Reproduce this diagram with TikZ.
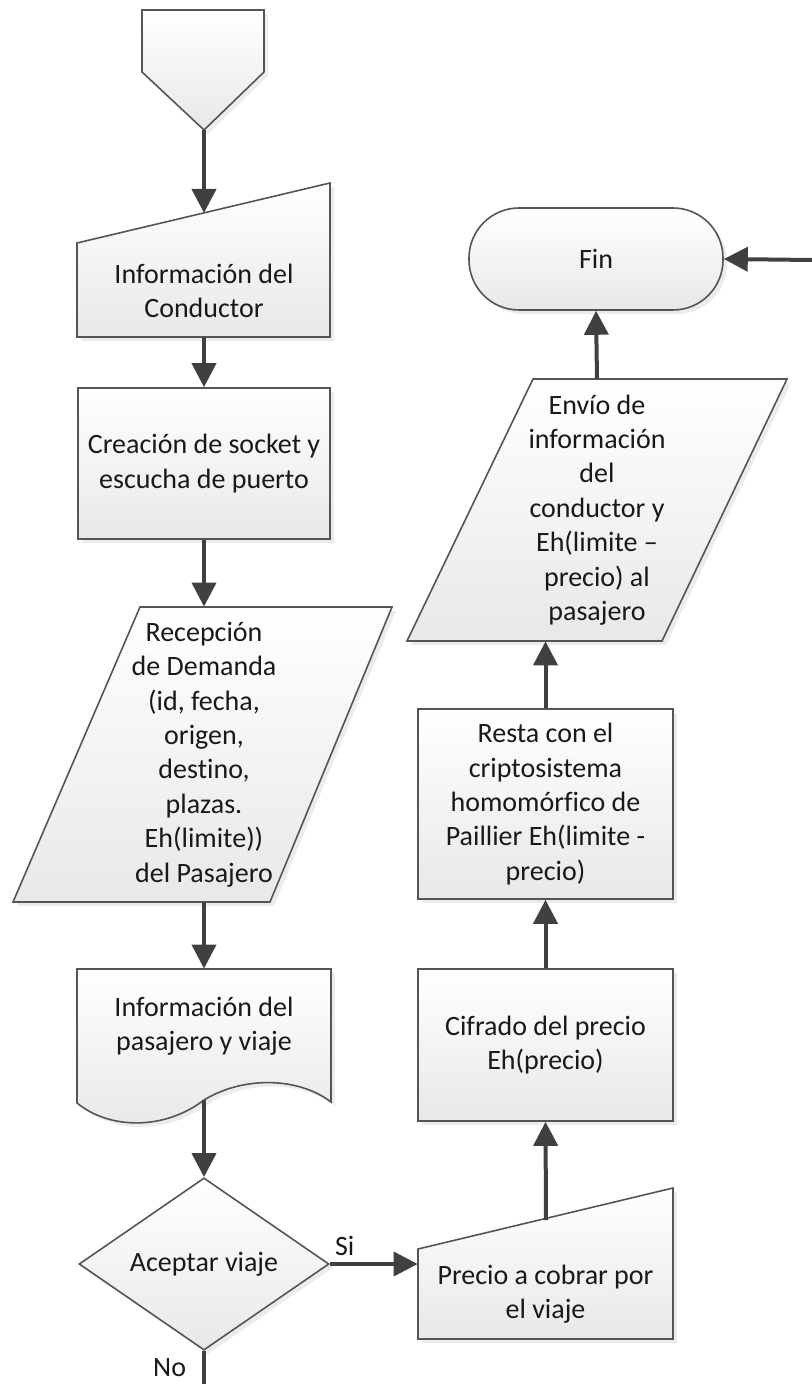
\documentclass[tikz,border=0pt]{standalone}
\usepackage{fontspec}
\setmainfont[Ligatures=NoCommon]{Carlito}
\usetikzlibrary{shapes.geometric,arrows.meta,shadows}
\definecolor{BordeGris}{HTML}{555555}
\definecolor{FlechaGris}{HTML}{404040}

\begin{document}
\begin{tikzpicture}[x=0.5pt, y=-0.5pt,
    forma/.style={draw=BordeGris, line width=0.8pt, top color=white, bottom color=black!9,
      drop shadow={opacity=0.15, shadow xshift=2pt, shadow yshift=-2pt}},
    texto/.style={align=center, text=black!90, inner sep=0pt,
      font=\fontsize{14pt}{17.2pt}\selectfont},
    caja/.style={texto, forma, rectangle, minimum width=127.5pt},
    hueco/.style={texto, minimum width=126pt},
    flecha/.style={-{Triangle[length=12pt,width=12pt]}, line width=2pt, FlechaGris},
    linea/.style={line width=2pt, FlechaGris}]
    \useasboundingbox (0,0) rectangle (812,1384);

    \filldraw[forma] (142,10) -- (264,10) -- (264,72) -- (204,130) -- (142,72) -- cycle;
    \filldraw[forma] (77,243) -- (330,183) -- (330,337) -- (77,337) -- cycle;
    \filldraw[forma] (140,607) -- (392,607) -- (270,902) -- (13,902) -- cycle;
    \filldraw[forma] (77,969) -- (331,969) -- (331,1102)
      .. controls (300,1078) and (245,1075) .. (204,1100)
      .. controls (165,1130) and (110,1130) .. (77,1103) -- cycle;
    \filldraw[forma] (418,1249) -- (673,1188) -- (673,1339) -- (418,1339) -- cycle;
    \filldraw[forma] (533,379) -- (787,379) -- (662,641) -- (407,641) -- cycle;

    \coordinate (inicio) at (204,130);
    \coordinate (condarriba) at (204,213);
    \coordinate (docabajo) at (204,1100);
    \coordinate (noabajo) at (204,1384);
    \coordinate (precioarriba) at (546,1220);
    \coordinate (finderecha) at (812,260);

    \node[hueco, minimum height=46pt] (cond) at (204,291) {Información del\\Conductor};
    \node[caja, minimum width=126pt, minimum height=75.5pt] (socket) at (204,463.5)
      {Creación de socket y\\escucha de puerto};
    \node[hueco, minimum height=147.5pt] (recep) at (204,754.5)
      {Recepción\\de Demanda\\(id, fecha,\\origen,\\destino,\\plazas.\\Eh(limite))\\del Pasajero};
    \node[hueco, minimum height=57pt] (doc) at (204,1026) {Información del\\pasajero y viaje};
    \node[texto, forma, diamond, minimum width=125pt, minimum height=74pt] (decision)
      at (204,1264) {Aceptar viaje};
    \node[hueco, minimum width=127.5pt, minimum height=45pt] (precio) at (545.5,1294)
      {Precio a cobrar por\\el viaje};
    \node[caja, minimum height=76pt] (cifrado) at (545.5,1045) {Cifrado del precio\\Eh(precio)};
    \node[caja, minimum height=95pt] (resta) at (545.5,804)
      {Resta con el\\criptosistema\\homomórfico de\\Paillier Eh(limite -\\precio)};
    \node[hueco, minimum height=131pt] (envio) at (597,510)
      {Envío de\\información\\del\\conductor y\\Eh(limite –\\precio) al\\pasajero};
    \node[texto, forma, rectangle, rounded corners=25pt, minimum width=127pt,
      minimum height=51pt] (fin) at (596,259) {Fin};

    \draw[flecha] (inicio) -- (condarriba);
    \draw[flecha] (cond.south) -- (socket.north);
    \draw[flecha] (socket.south) -- (socket.south |- recep.north);
    \draw[flecha] (recep.south) -- (doc.north);
    \draw[flecha] (docabajo) -- (decision.north);
    \draw[flecha] (decision.east) -- (decision.east -| precio.west)
      node[texto, pos=0.17, above, inner sep=3pt] {Si};
    \draw[linea] (decision.south) -- (noabajo)
      node[texto, pos=0.5, left, inner sep=8pt] {No};
    \draw[flecha] (precioarriba) -- (cifrado.south);
    \draw[flecha] (cifrado.north) -- (resta.south);
    \draw[flecha] (resta.north) -- (resta.north |- envio.south);
    \draw[flecha] (envio.north) -- (fin.south);
    \draw[flecha] (finderecha) -- (fin.east);
  \end{tikzpicture}
\end{document}
